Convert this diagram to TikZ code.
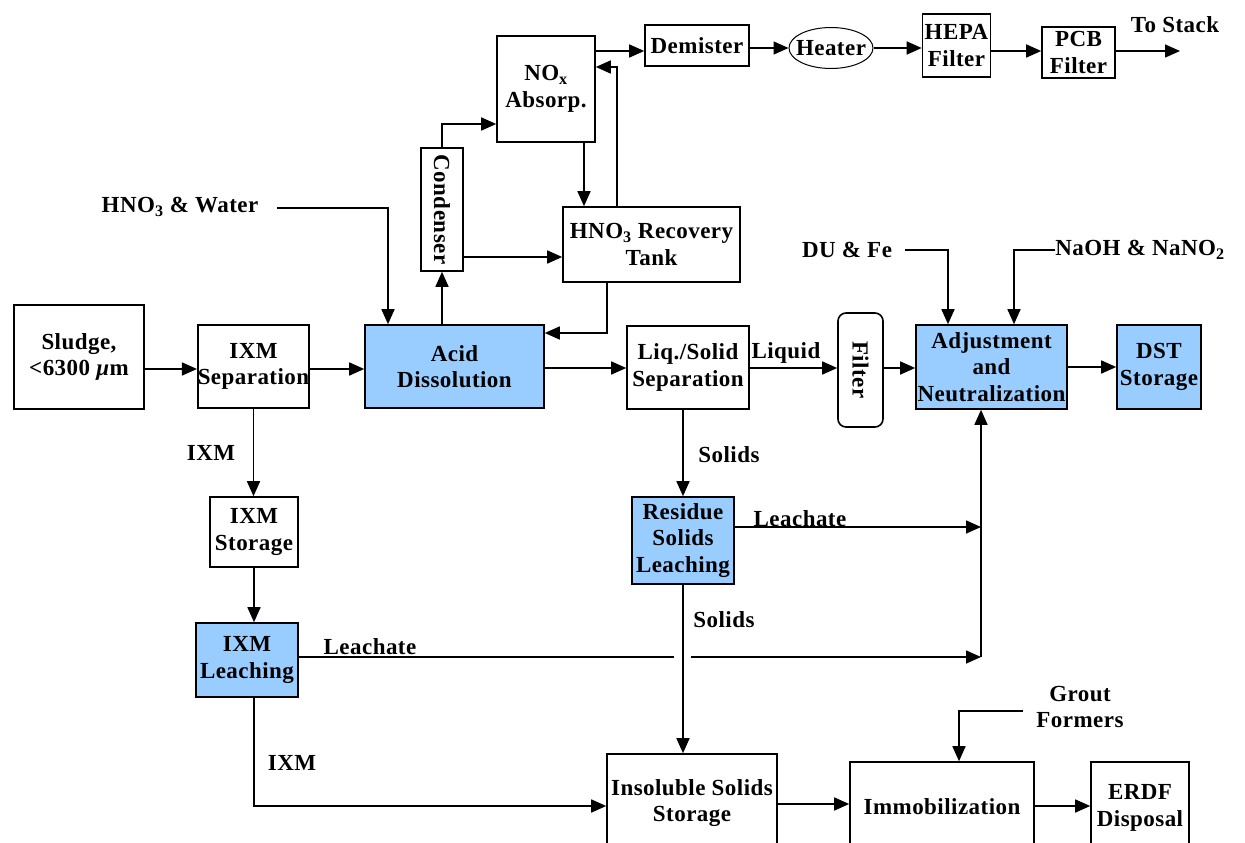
\documentclass[tikz,border=0pt]{standalone}
\usepackage{fontspec}
\setmainfont{Liberation Serif}[LetterSpace=2]
\usetikzlibrary{arrows.meta,shapes.geometric}
\definecolor{boxblue}{RGB}{153,204,255}
\begin{document}
\begin{tikzpicture}[x=1pt,y=-1pt,
  every node/.style={font=\fontsize{23}{26.5}\selectfont\bfseries, inner sep=0pt, align=center},
  box/.style={draw, line width=1.6pt, rectangle},
  bluebox/.style={box, fill=boxblue},
  ln/.style={line width=1.6pt},
  arr/.style={ln, -{Triangle[length=15pt,width=13pt]}}]
\useasboundingbox (0,0) rectangle (1245,843);
\clip (0,0) rectangle (1245,843);

% boxes
\node[box, minimum width=130, minimum height=104] (sludge) at (79,357) {Sludge,\\<6300 \textit{μ}m};
\node[box, minimum width=109, minimum height=83] (ixmsep) at (253.5,366.5) {IXM\\Separation};
\node[bluebox, minimum width=179, minimum height=83] (acid) at (454.5,366.5) {Acid\\Dissolution};
\node[box, minimum width=42, minimum height=123] (condenser) at (442,209.5) {};
\node[rotate=-90] (condtxt) at (condenser) {Condenser};
\node[box, minimum width=98, minimum height=106] (nox) at (546,89) {NO\textsubscript{x}\\Absorp.};
\node[box, minimum width=104, minimum height=41] (demister) at (697,45.5) {Demister};
\node[draw, ellipse, line width=1pt, minimum width=84, minimum height=41] (heater) at (831,48) {};
\node (heatertxt) at (heater) {Heater};
\node[box, minimum width=68, minimum height=63] (hepa) at (956.5,45.5) {HEPA\\Filter};
\node[box, minimum width=73, minimum height=51] (pcb) at (1078.5,52.5) {PCB\\Filter};
\node[box, minimum width=177, minimum height=75] (tank) at (651.5,244.5) {HNO\textsubscript{3} Recovery\\Tank};
\node[box, minimum width=122, minimum height=83] (liq) at (688,367.5) {Liq./Solid\\Separation};
\node[box, rounded corners=8pt, minimum width=45, minimum height=114] (filter) at (860.5,370) {};
\node[rotate=-90] (filtertxt) at (filter) {Filter};
\node[bluebox, minimum width=151, minimum height=84] (adj) at (991.5,367) {Adjustment\\and\\Neutralization};
\node[bluebox, minimum width=84, minimum height=84] (dst) at (1159,367) {DST\\Storage};
\node[box, minimum width=88, minimum height=70] (ixmsto) at (254,532) {IXM\\Storage};
\node[bluebox, minimum width=102, minimum height=74] (ixmleach) at (247,660) {IXM\\Leaching};
\node[bluebox, minimum width=102, minimum height=87] (residue) at (683,540.5) {Residue\\Solids\\Leaching};
\node[box, minimum width=170, minimum height=98] (insol) at (692,803) {Insoluble Solids\\Storage};
\node[box, minimum width=184, minimum height=90] (immob) at (942,807) {Immobilization};
\node[box, minimum width=98, minimum height=92] (erdf) at (1140,808) {ERDF\\Disposal};

% free labels
\node (hnowater) at (180,207) {HNO\textsubscript{3} \& Water};
\node (dufe) at (847,250) {DU \& Fe};
\node (naoh) at (1140,250) {NaOH \& NaNO\textsubscript{2}};
\node (tostack) at (1175,25) {To Stack};
\node (liquidlbl) at (786,353) {Liquid};
\node (solids1) at (729,455) {Solids};
\node (leach1) at (800,519) {Leachate};
\node (solids2) at (724,620) {Solids};
\node (leach2) at (370,647) {Leachate};
\node (ixm1) at (211,453) {IXM};
\node (ixm2) at (292,763) {IXM};
\node (grout) at (1080,707) {Grout\\Formers};

% free ends
\coordinate (wsrc) at (277,208);
\coordinate (dusrc) at (905,250);
\coordinate (nasrc) at (1055,250);
\coordinate (stack) at (1180,51);
\coordinate (j1) at (981,527);
\coordinate (j2) at (981,657);
\coordinate (gapL) at (674,657);
\coordinate (gapR) at (691,657);
\coordinate (gsrc) at (1023,711);

% main line
\draw[arr] (sludge.east |- 0,369) -- (ixmsep.west |- 0,369);
\draw[arr] (ixmsep.east |- 0,369) -- (acid.west |- 0,369);
\draw[arr] (acid.east |- 0,368) -- (liq.west |- 0,368);
\draw[arr] (liq.east |- 0,368) -- (filter.west |- 0,368);
\draw[arr] (filter.east |- 0,368) -- (adj.west |- 0,368);
\draw[arr] (adj.east |- 0,367) -- (dst.west |- 0,367);

% acid feed and off-gas
\draw[arr] (wsrc) -| (acid.north -| 388,0);
\draw[arr] (acid.north -| condenser) -- (condenser.south);
\draw[arr] (condenser.north) |- (nox.west |- 0,124);
\draw[arr] (condenser.east |- 0,257) -- (tank.west |- 0,257);
\draw[arr] (nox.south -| 584,0) -- (tank.north -| 584,0);
\draw[arr] (tank.north -| 617,0) |- (nox.east |- 0,67);
\draw[arr] (tank.south -| 607,0) |- (acid.east |- 0,333);
\draw[arr] (nox.east |- 0,51) -- (demister.west |- 0,51);
\draw[arr] (demister.east |- heater.west) -- (heater.west);
\draw[arr] (heater.east) -- (hepa.west |- heater.east);
\draw[arr] (hepa.east |- 0,51) -- (pcb.west |- 0,51);
\draw[arr] (pcb.east |- stack) -- (stack);

% neutralization feeds
\draw[arr] (dusrc) -| (adj.north -| 948,0);
\draw[arr] (nasrc) -| (adj.north -| 1014,0);

% solids path
\draw[arr] (liq.south -| residue.north) -- (residue.north);
\draw[arr] (residue.east |- j1) -- (j1);
\draw[arr] (residue.south) -- (insol.north -| residue.south);
\draw[ln] (ixmleach.east |- gapL) -- (gapL);
\draw[arr] (gapR) -- (j2);
\draw[arr] (j2) -- (adj.south -| j2);

% IXM path
\draw[arr] (ixmsep.south) -- (ixmsto.north -| ixmsep.south);
\draw[arr] (ixmsto.south) -- (ixmleach.north -| ixmsto.south);
\draw[arr] (ixmleach.south -| ixmsto.south) |- (insol.west |- 0,806);

% bottom
\draw[arr] (insol.east |- 0,804) -- (immob.west |- 0,804);
\draw[arr] (immob.east |- 0,806) -- (erdf.west |- 0,806);
\draw[arr] (gsrc) -| (immob.north -| 959,0);
\end{tikzpicture}
\end{document}
